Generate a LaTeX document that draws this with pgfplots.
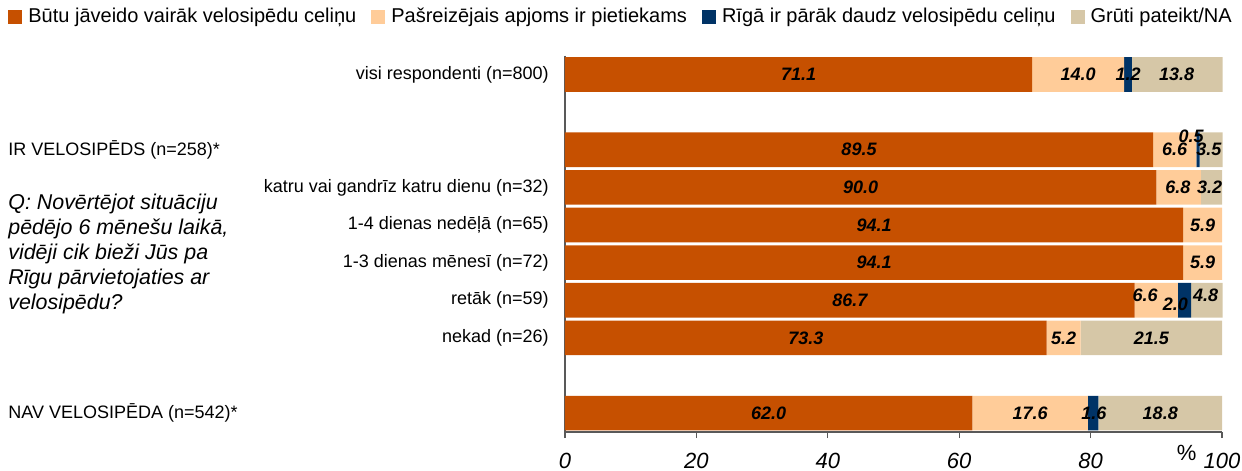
\documentclass[border=0pt]{standalone}
\usepackage{fontspec}
\setmainfont{Liberation Sans}
\usepackage{pgfplots}
\pgfplotsset{compat=1.18}
\definecolor{cOr}{HTML}{C65000}
\definecolor{cPe}{HTML}{FFCC99}
\definecolor{cNa}{HTML}{003366}
\definecolor{cBe}{HTML}{D6C7A7}
\tikzset{lbl/.style={font=\fontsize{9}{10}\selectfont\bfseries\itshape, inner sep=0pt}}
\begin{document}
\begin{tikzpicture}
\useasboundingbox (0,0) rectangle (621pt,235.5pt);
\begin{axis}[
  at={(282.5pt,19.5pt)}, anchor=south west,
  scale only axis, width=328.5pt, height=188.15pt,
  xbar stacked, bar width=0.92,
  xmin=0, xmax=100, ymin=-0.5, ymax=9.5, y dir=reverse,
  axis x line=bottom, axis y line=left,
  axis line style={-, gray!70!black, line width=0.6pt},
  xtick={0,20,40,60,80,100},
  tick align=outside, major tick length=3pt,
  xtick style={gray!70!black, line width=0.6pt},
  /pgf/number format/assume math mode=true,
  xticklabel style={font=\fontsize{11}{13}\selectfont\itshape, yshift=-3.8pt},
  ytick={0,3,4,5,6,7},
  yticklabels={visi respondenti (n=800), katru vai gandrīz katru dienu (n=32), 1-4 dienas nedēļā (n=65), 1-3 dienas mēnesī (n=72), retāk (n=59), nekad (n=26)},
  yticklabel style={font=\fontsize{9}{10}\selectfont, inner sep=0pt, xshift=-5pt},
  ytick style={draw=none},
  legend columns=4,
  legend image code/.code={\fill[#1] (0pt,-3.5pt) rectangle (7pt,3.5pt);},
  legend style={at={(-0.8478,1.1028)}, anchor=west, draw=none, fill=none,
    inner sep=0pt, font=\fontsize{10}{12}\selectfont,
    nodes={inner sep=0pt},
    /tikz/every odd column/.append style={column sep=3pt},
    /tikz/every even column/.append style={column sep=7.5pt}},
  legend cell align=left,
  clip=false,
]
\addplot[fill=cOr, draw=none] coordinates {(71.1,0) (89.5,2) (90.0,3) (94.1,4) (94.1,5) (86.7,6) (73.3,7) (62.0,9)};
\addplot[fill=cPe, draw=none] coordinates {(14.0,0) (6.6,2) (6.8,3) (5.9,4) (5.9,5) (6.6,6) (5.2,7) (17.6,9)};
\addplot[fill=cNa, draw=none] coordinates {(1.2,0) (0.5,2) (0,3) (0,4) (0,5) (2.0,6) (0,7) (1.6,9)};
\addplot[fill=cBe, draw=none] coordinates {(13.8,0) (3.5,2) (3.2,3) (0,4) (0,5) (4.8,6) (21.5,7) (18.8,9)};
\legend{Būtu jāveido vairāk velosipēdu celiņu, Pašreizējais apjoms ir pietiekams, Rīgā ir pārāk daudz velosipēdu celiņu, Grūti pateikt/NA}
\coordinate (L1) at (axis cs:35.55,0);
\coordinate (L2) at (axis cs:78.1,0);
\coordinate (L3) at (axis cs:85.7,0);
\coordinate (L4) at (axis cs:93.1,0);
\coordinate (L5) at (axis cs:44.75,2);
\coordinate (L6) at (axis cs:92.8,2);
\coordinate (L7) at (axis cs:95.3,1.65);
\coordinate (L8) at (axis cs:98.0,2);
\coordinate (L9) at (axis cs:45.0,3);
\coordinate (L10) at (axis cs:93.3,3);
\coordinate (L11) at (axis cs:98.1,3);
\coordinate (L12) at (axis cs:47.05,4);
\coordinate (L13) at (axis cs:97.05,4);
\coordinate (L14) at (axis cs:47.05,5);
\coordinate (L15) at (axis cs:97.05,5);
\coordinate (L16) at (axis cs:43.35,6);
\coordinate (L17) at (axis cs:88.3,5.88);
\coordinate (L18) at (axis cs:92.9,6.12);
\coordinate (L19) at (axis cs:97.5,5.88);
\coordinate (L20) at (axis cs:36.65,7);
\coordinate (L21) at (axis cs:75.9,7);
\coordinate (L22) at (axis cs:89.25,7);
\coordinate (L23) at (axis cs:31.0,9);
\coordinate (L24) at (axis cs:70.8,9);
\coordinate (L25) at (axis cs:80.5,9);
\coordinate (L26) at (axis cs:90.6,9);
\coordinate (PCT) at (rel axis cs:0.946,0);
\end{axis}
\node[lbl] at (L1) {71.1};
\node[lbl] at (L2) {14.0};
\node[lbl] at (L3) {1.2};
\node[lbl] at (L4) {13.8};
\node[lbl] at (L5) {89.5};
\node[lbl] at (L6) {6.6};
\node[lbl] at (L7) {0.5};
\node[lbl] at (L8) {3.5};
\node[lbl] at (L9) {90.0};
\node[lbl] at (L10) {6.8};
\node[lbl] at (L11) {3.2};
\node[lbl] at (L12) {94.1};
\node[lbl] at (L13) {5.9};
\node[lbl] at (L14) {94.1};
\node[lbl] at (L15) {5.9};
\node[lbl] at (L16) {86.7};
\node[lbl] at (L17) {6.6};
\node[lbl] at (L18) {2.0};
\node[lbl] at (L19) {4.8};
\node[lbl] at (L20) {73.3};
\node[lbl] at (L21) {5.2};
\node[lbl] at (L22) {21.5};
\node[lbl] at (L23) {62.0};
\node[lbl] at (L24) {17.6};
\node[lbl] at (L25) {1.6};
\node[lbl] at (L26) {18.8};
\node[font=\fontsize{11}{13}\selectfont] at (PCT) [yshift=-10.5pt] {\%};
\begin{scope}[every node/.style={anchor=west, inner sep=0pt}]
\node[font=\fontsize{9}{10}\selectfont] at (4pt,160.5pt) {IR VELOSIPĒDS (n=258)*};
\node[font=\fontsize{9}{10}\selectfont] at (4pt,29pt) {NAV VELOSIPĒDA (n=542)*};
\node[font=\fontsize{10.7}{12}\selectfont\itshape] at (4pt,133.5pt) {Q: Novērtējot situāciju};
\node[font=\fontsize{10.7}{12}\selectfont\itshape] at (4pt,121pt) {pēdējo 6 mēnešu laikā,};
\node[font=\fontsize{10.7}{12}\selectfont\itshape] at (4pt,108.5pt) {vidēji cik bieži Jūs pa};
\node[font=\fontsize{10.7}{12}\selectfont\itshape] at (4pt,96pt) {Rīgu pārvietojaties ar};
\node[font=\fontsize{10.7}{12}\selectfont\itshape] at (4pt,83.5pt) {velosipēdu?};
\end{scope}
\end{tikzpicture}
\end{document}
